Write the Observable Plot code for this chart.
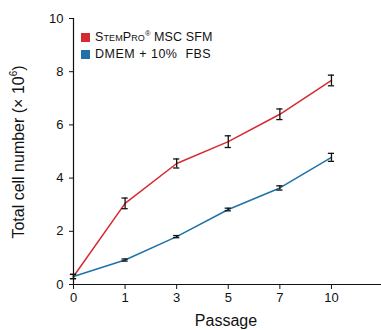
<!DOCTYPE html>
<html><head><meta charset="utf-8">
<script src="https://cdn.jsdelivr.net/npm/d3@7"></script>
<script src="https://cdn.jsdelivr.net/npm/@observablehq/plot@0.6"></script>
<style>
body{margin:0;background:#fff;font-family:"Liberation Sans",Arial,sans-serif;}
#wrap{position:relative;width:381px;height:330px;}
.leg{position:absolute;left:81px;font-size:12.5px;letter-spacing:0.5px;color:#111;line-height:14px;white-space:nowrap;}
.leg.r{letter-spacing:0.1px;}
.sw{display:inline-block;width:9px;height:9px;margin-right:5px;vertical-align:-1px;}
.sm{font-size:9px;}
sup{font-size:7.5px;vertical-align:5px;line-height:0;}
</style>
</head><body>
<div id="wrap"></div>
<script>
const passages = ["0","1","3","5","7","10"];
const seriesNames = ["StemPro MSC SFM","DMEM + 10% FBS"];
const stemproMean = [0.3, 3.05, 4.55, 5.37, 6.4, 7.67];
const stemproErr  = [0.08, 0.2, 0.17, 0.22, 0.2, 0.2];
const dmemMean = [0.3, 0.92, 1.8, 2.82, 3.63, 4.78];
const dmemErr  = [0.08, 0.04, 0.04, 0.05, 0.08, 0.15];
const colors = ["#d42a30", "#1f72a8"];

const data = [];
passages.forEach((p,i)=>{
  data.push({i, s:seriesNames[0], v:stemproMean[i], e:stemproErr[i]});
  data.push({i, s:seriesNames[1], v:dmemMean[i], e:dmemErr[i]});
});
const cap = 0.06;

const chart = Plot.plot({
  width:381, height:330,
  marginLeft:73, marginTop:18, marginBottom:46, marginRight:0,
  style:{fontFamily:"Liberation Sans, Arial, sans-serif", fontSize:"13px", color:"#111"},
  x:{domain:[0,5.97]},
  y:{domain:[0,10]},
  color:{domain:seriesNames, range:colors},
  marks:[
    Plot.axisX({ticks:d3.range(passages.length), tickFormat:i=>passages[i], tickSize:5, tickPadding:3, label:null, fontSize:13}),
    Plot.axisY({ticks:[0,2,4,6,8,10], tickSize:4, tickPadding:6, label:null, fontSize:13}),
    Plot.ruleX([0], {y1:0, y2:10, stroke:"#111", strokeWidth:1.2}),
    Plot.ruleY([0], {stroke:"#111", strokeWidth:1.2}),
    Plot.line(data, {x:"i", y:"v", z:"s", stroke:"s", strokeWidth:1.5}),
    Plot.ruleX(data, {x:"i", y1:d=>d.v-d.e, y2:d=>d.v+d.e, stroke:"#111", strokeWidth:1.3}),
    Plot.ruleY(data, {y:d=>d.v+d.e, x1:d=>d.i-cap, x2:d=>d.i+cap, stroke:"#111", strokeWidth:1.3}),
    Plot.ruleY(data, {y:d=>d.v-d.e, x1:d=>d.i-cap, x2:d=>d.i+cap, stroke:"#111", strokeWidth:1.3})
  ]
});
const wrap = document.getElementById("wrap");
wrap.appendChild(chart);

const svg = d3.select(chart);
svg.append("text").attr("x",226).attr("y",326).attr("text-anchor","middle")
  .attr("font-size",16).attr("fill","#111").text("Passage");
const yl = svg.append("text").attr("transform","translate(24,152) rotate(-90)")
  .attr("text-anchor","middle").attr("font-size",16).attr("fill","#111");
yl.append("tspan").text("Total cell number (× 10");
yl.append("tspan").attr("font-size",10).attr("baseline-shift","7").text("6");
yl.append("tspan").text(")");

const l1 = document.createElement("div");
l1.className="leg r"; l1.style.top="30px";
l1.innerHTML = `<span class="sw" style="background:${colors[0]}"></span>S<span class="sm">TEM</span>P<span class="sm">RO</span><sup>®</sup> MSC SFM`;
const l2 = document.createElement("div");
l2.className="leg"; l2.style.top="47px";
l2.innerHTML = `<span class="sw" style="background:${colors[1]}"></span>DMEM + 10%&nbsp;&nbsp;FBS`;
wrap.appendChild(l1); wrap.appendChild(l2);
</script>
</body></html>
